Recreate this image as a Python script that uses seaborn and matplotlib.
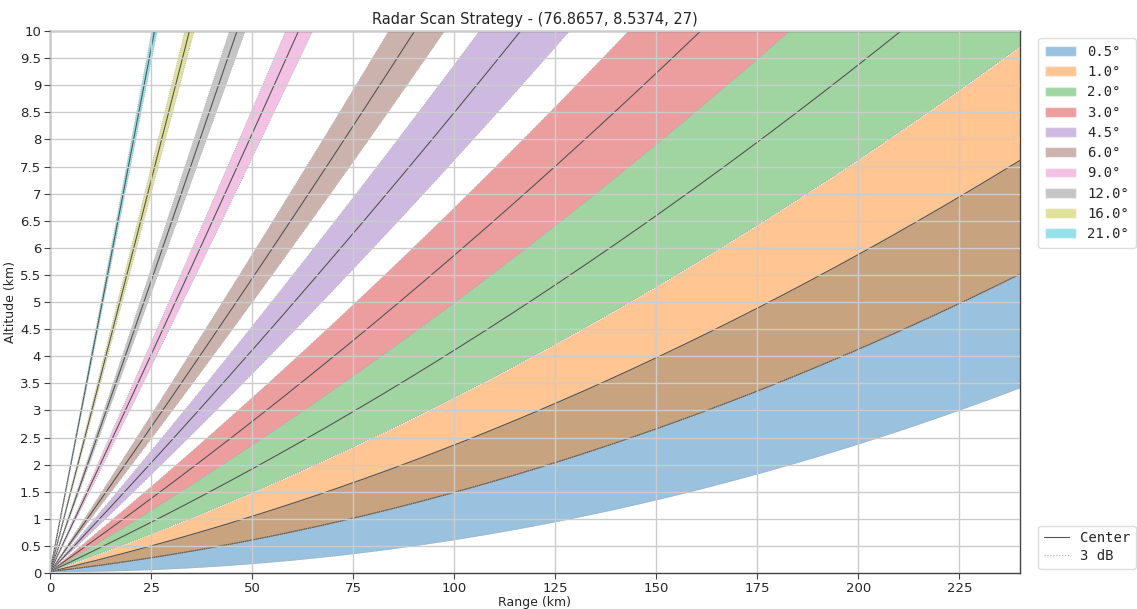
import numpy as np
import pandas as pd
import matplotlib
matplotlib.use('Agg')
import matplotlib.pyplot as plt
from matplotlib.patches import Patch
from matplotlib.lines import Line2D
import seaborn as sns

# radar site (lon, lat, alt m) and scan elevations
site = (76.8657, 8.5374, 27)
elevations = [0.5, 1.0, 2.0, 3.0, 4.5, 6.0, 9.0, 12.0, 16.0, 21.0]
beamwidth = 1.0
max_range = 240
earth_radius = 6371.0
ke = 4.0 / 3.0


def beam_height(s, elev_deg, h0_km):
    # beam height over ground distance s, 4/3 earth model
    a = ke * earth_radius
    th = np.deg2rad(elev_deg)
    return a * (np.cos(th) / np.cos(th + s / a) - 1) + h0_km


sns.set_style("white")
plt.rcParams['font.family'] = ['DejaVu Sans']

rng = np.linspace(0, max_range, 600)
h0 = site[2] / 1000.0
colors = sns.color_palette("tab10", len(elevations))

fig = plt.figure(figsize=(11.37, 6.09), dpi=100)
ax = fig.add_axes([0.044, 0.059, 0.853, 0.89])

for elev, col in zip(elevations, colors):
    lo = beam_height(rng, elev - beamwidth / 2, h0)
    hi = beam_height(rng, elev + beamwidth / 2, h0)
    mid = beam_height(rng, elev, h0)
    ax.fill_between(rng, lo, hi, color=col, alpha=0.45, linewidth=0)
    df = pd.DataFrame({"range": rng, "center": mid, "lo": lo, "hi": hi})
    sns.lineplot(data=df, x="range", y="center", ax=ax, color="#555555", linewidth=0.8)
    sns.lineplot(data=df, x="range", y="lo", ax=ax, color="#aaaaaa", linewidth=0.6, linestyle=":")
    sns.lineplot(data=df, x="range", y="hi", ax=ax, color="#aaaaaa", linewidth=0.6, linestyle=":")

ax.set_xlim(0, max_range)
ax.set_ylim(0, 10)
ax.set_xticks(np.arange(0, 226, 25))
ax.set_yticks(np.arange(0, 10.01, 0.5))
ax.set_yticklabels([f"{v:g}" for v in np.arange(0, 10.01, 0.5)])
ax.grid(True, color="#cccccc", linewidth=1.0)
ax.set_axisbelow(False)
ax.tick_params(axis="both", labelsize=9.5, length=4, pad=2.5, color="#444444", left=True, bottom=True)
for s in ax.spines.values():
    s.set_color("#444444")
    s.set_linewidth(1.0)

ax.set_title(f"Radar Scan Strategy - {site}", fontsize=10.5, pad=5)
ax.set_xlabel("Range (km)", fontsize=9, labelpad=1)
ax.set_ylabel("Altitude (km)", fontsize=9, labelpad=2)

mono = {"family": "DejaVu Sans Mono", "size": 10}
handles = [Patch(facecolor=c, alpha=0.45, label=f"{e:.1f}°") for e, c in zip(elevations, colors)]
leg1 = ax.legend(handles=handles, loc="upper left", bbox_to_anchor=(1.012, 1.0),
                 prop=mono, markerfirst=True, handlelength=2.2, borderpad=0.5,
                 labelspacing=0.45, framealpha=1, edgecolor="#dddddd")
ax.add_artist(leg1)

line_handles = [Line2D([0], [0], color="#555555", linewidth=0.8, label="Center"),
                Line2D([0], [0], color="#aaaaaa", linewidth=0.8, linestyle=":", label="3 dB")]
ax.legend(handles=line_handles, loc="lower left", bbox_to_anchor=(1.012, -0.005),
          prop=mono, handlelength=1.8, borderpad=0.4, labelspacing=0.3,
          framealpha=1, edgecolor="#dddddd")

fig.savefig("out.png", dpi=100)
